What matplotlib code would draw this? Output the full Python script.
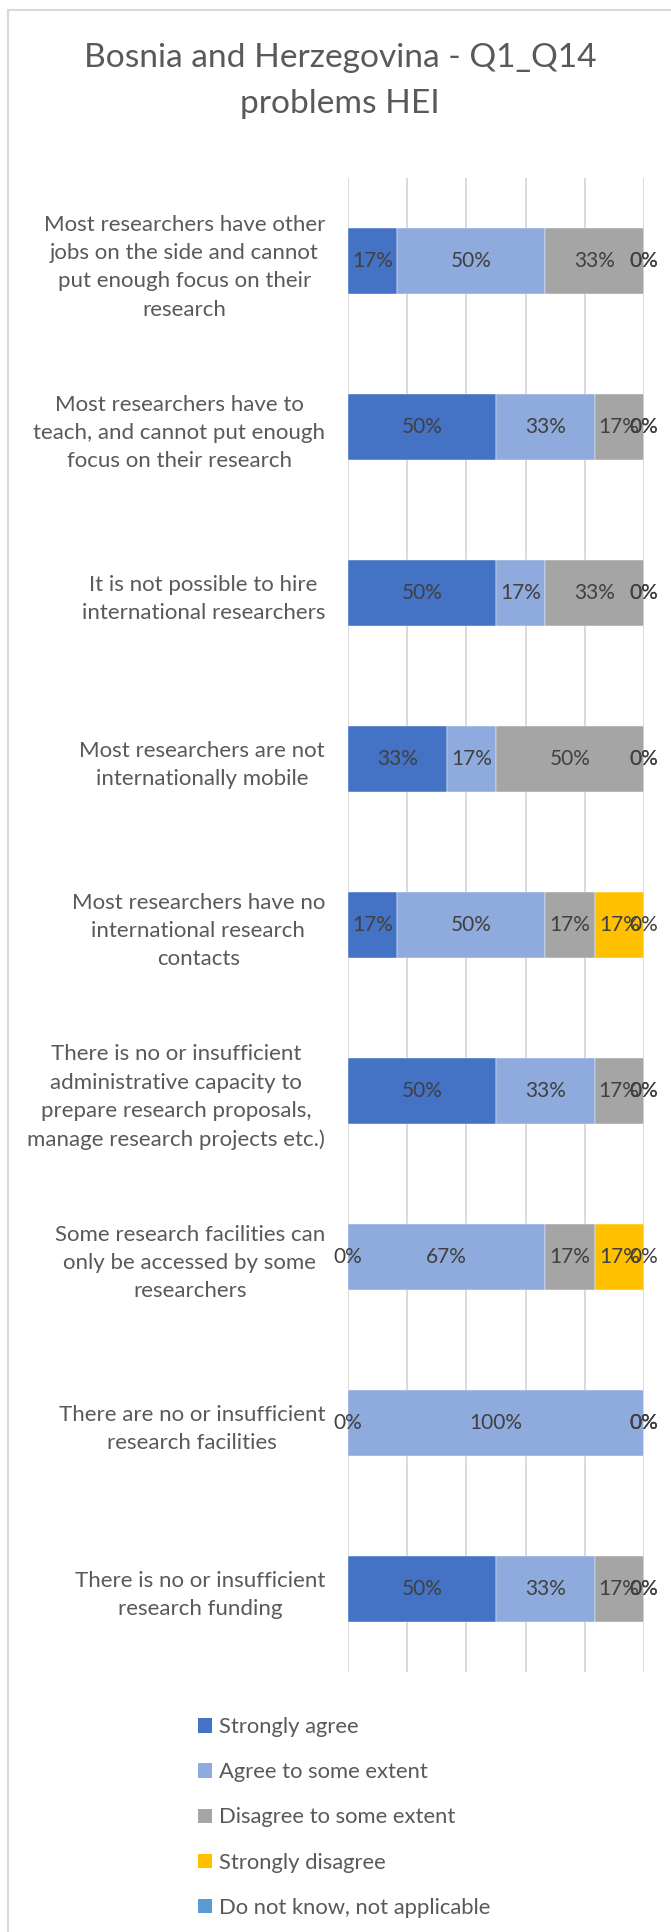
import matplotlib
matplotlib.use("Agg")
import matplotlib.pyplot as plt
from matplotlib.lines import Line2D
import numpy as np

plt.rcParams['font.family'] = ['Lato', 'DejaVu Sans']

categories = [
    "Most researchers have other\njobs on the side and cannot\nput enough focus on their\nresearch",
    "Most researchers have to\nteach, and cannot put enough\nfocus on their research",
    "It is not possible to hire\ninternational researchers",
    "Most researchers are not\ninternationally mobile",
    "Most researchers have no\ninternational research\ncontacts",
    "There is no or insufficient\nadministrative capacity to\nprepare research proposals,\nmanage research projects etc.)",
    "Some research facilities can\nonly be accessed by some\nresearchers",
    "There are no or insufficient\nresearch facilities",
    "There is no or insufficient\nresearch funding",
]

series_names = ["Strongly agree", "Agree to some extent", "Disagree to some extent",
                "Strongly disagree", "Do not know, not applicable"]
strongly_agree    = [16.67, 50.00, 50.00, 33.33, 16.67, 50.00, 0.00, 0.00, 50.00]
agree_some        = [50.00, 33.33, 16.67, 16.67, 50.00, 33.33, 66.67, 100.00, 33.33]
disagree_some     = [33.33, 16.67, 33.33, 50.00, 16.67, 16.67, 16.67, 0.00, 16.67]
strongly_disagree = [0.00, 0.00, 0.00, 0.00, 16.67, 0.00, 16.67, 0.00, 0.00]
dont_know         = [0.00, 0.00, 0.00, 0.00, 0.00, 0.00, 0.00, 0.00, 0.00]
colors = ["#4472C4", "#8FAADC", "#A5A5A5", "#FFC000", "#5B9BD5"]

title_lines = ["Bosnia and Herzegovina - Q1_Q14", "problems HEI"]

W, H = 671, 1932
fig = plt.figure(figsize=(W / 100, H / 100), dpi=100)
fig.patch.set_facecolor("white")

ax = fig.add_axes([348 / W, (H - 1672) / H, (644 - 348) / W, (1672 - 178) / H])
ax.set_facecolor("white")

y = np.arange(len(categories))
left = np.zeros(len(categories))
all_series = [strongly_agree, agree_some, disagree_some, strongly_disagree, dont_know]
for name, vals, col in zip(series_names, all_series, colors):
    vals = np.array(vals)
    bars = ax.barh(y, vals, left=left, height=0.4, color=col, label=name,
                   edgecolor="white", linewidth=0.3, zorder=2)
    ax.bar_label(bars, labels=[f"{v:.0f}%" for v in vals], label_type="center",
                 color="#404040", fontsize=15, zorder=3, annotation_clip=False)
    left = left + vals

ax.set_xlim(0, 100.05)
ax.set_ylim(len(categories) - 0.5, -0.5)
ax.set_xticks(np.arange(0, 101, 20))
ax.set_xticklabels([])
ax.xaxis.grid(True, color="#D9D9D9", linewidth=1.4, zorder=0)
ax.set_axisbelow(True)
for s in ax.spines.values():
    s.set_visible(False)
ax.set_yticks(y)
ax.set_yticklabels(categories, fontsize=16.0, color="#595959", ha="right",
                   multialignment="center", linespacing=1.52)
ax.tick_params(axis="y", length=0, pad=16.5)
ax.tick_params(axis="x", length=0)

fig.text(340 / W, 1 - 67 / H, title_lines[0], ha="center", va="baseline",
         fontsize=24.1, color="#595959")
fig.text(340 / W, 1 - 113 / H, title_lines[1], ha="center", va="baseline",
         fontsize=24.1, color="#595959")

fsz = 15.8
leg = fig.legend(loc="upper left", bbox_to_anchor=(198 / W, 1 - 1717 / H),
                 ncol=1, frameon=False, fontsize=fsz, borderpad=0, borderaxespad=0,
                 handlelength=10.08 / fsz, handleheight=10.08 / fsz,
                 handletextpad=0.3, labelspacing=1.15)
for t in leg.get_texts():
    t.set_color("#595959")
for p in leg.get_patches():
    p.set_edgecolor("none")

border = "#D9D9D9"
fig.add_artist(Line2D([8 / W, 8 / W], [0, 1 - 10 / H], color=border, lw=1.5,
                      transform=fig.transFigure))
fig.add_artist(Line2D([8 / W, 1], [1 - 10 / H, 1 - 10 / H], color=border, lw=1.5,
                      transform=fig.transFigure))

fig.savefig("out.png", dpi=100, facecolor="white")
